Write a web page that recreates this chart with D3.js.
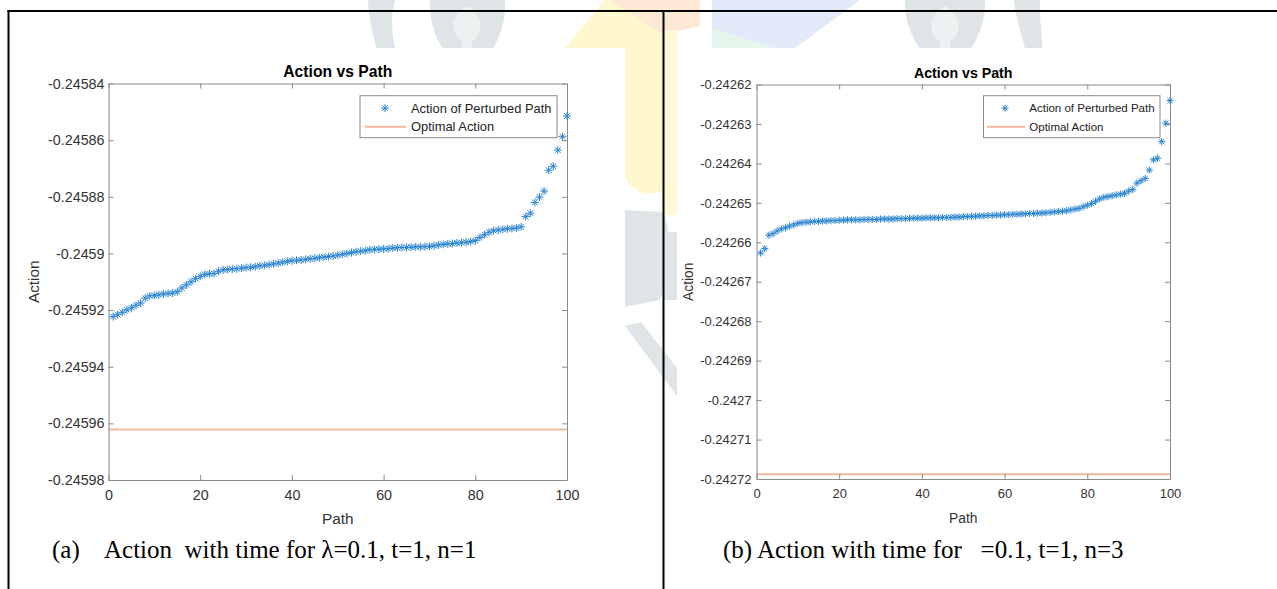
<!DOCTYPE html>
<html lang="en">
<head>
    <meta charset="UTF-8">
    <title>Action vs Path</title>
    <script src="https://d3js.org/d3.v7.min.js"></script>
    <style>
        body {
            background-color: #ffffff;
            margin: 0;
            padding: 0;
        }
        .caption {
            font-family: 'Liberation Serif', 'Times New Roman', serif;
            white-space: pre;
        }
        .mat {
            font-family: 'Liberation Sans', Arial, sans-serif;
        }
    </style>
</head>
<body>
    <svg id="chart"></svg>

    <script>
        // ---- data ----
        const xTicks = [0, 20, 40, 60, 80, 100];

        const yTicksA = [-0.24584, -0.24586, -0.24588, -0.2459, -0.24592, -0.24594, -0.24596, -0.24598];
        const optimalA = -0.2459622;
        const actionA = [
            -0.2459223, -0.2459216, -0.2459208, -0.2459199, -0.2459192, -0.2459183, -0.2459175, -0.2459158, -0.2459150, -0.2459148,
            -0.2459146, -0.2459143, -0.2459141, -0.2459140, -0.2459135, -0.2459122, -0.2459111, -0.2459100, -0.2459089, -0.2459081,
            -0.2459074, -0.2459072, -0.2459071, -0.2459063, -0.2459058, -0.2459057, -0.2459055, -0.2459054, -0.2459052, -0.2459050,
            -0.2459049, -0.2459047, -0.2459044, -0.2459042, -0.2459040, -0.2459037, -0.2459034, -0.2459031, -0.2459028, -0.2459026,
            -0.2459024, -0.2459023, -0.2459021, -0.2459019, -0.2459017, -0.2459015, -0.2459013, -0.2459011, -0.2459009, -0.2459006,
            -0.2459003, -0.2459000, -0.2458997, -0.2458994, -0.2458992, -0.2458990, -0.2458987, -0.2458986, -0.2458985, -0.2458984,
            -0.2458983, -0.2458981, -0.2458980, -0.2458979, -0.2458979, -0.2458978, -0.2458977, -0.2458977, -0.2458976, -0.2458975,
            -0.2458973, -0.2458970, -0.2458968, -0.2458966, -0.2458965, -0.2458963, -0.2458962, -0.2458960, -0.2458958, -0.2458955,
            -0.2458944, -0.2458934, -0.2458925, -0.2458920, -0.2458917, -0.2458915, -0.2458913, -0.2458912, -0.2458910, -0.2458906,
            -0.2458870, -0.2458858, -0.2458820, -0.2458801, -0.2458780, -0.2458706, -0.2458692, -0.2458635, -0.2458588, -0.2458515
        ];

        const yTicksB = [-0.24262, -0.24263, -0.24264, -0.24265, -0.24266, -0.24267, -0.24268, -0.24269, -0.2427, -0.24271, -0.24272];
        const optimalB = -0.2427188;
        const actionB = [
            -0.2426627, -0.2426616, -0.2426582, -0.2426578, -0.2426571, -0.2426566, -0.2426563, -0.2426559, -0.2426556, -0.2426552,
            -0.2426550, -0.2426549, -0.2426548, -0.2426547, -0.2426547, -0.2426546, -0.2426546, -0.2426545, -0.2426545, -0.2426544,
            -0.2426544, -0.2426543, -0.2426543, -0.2426543, -0.2426543, -0.2426542, -0.2426542, -0.2426542, -0.2426542, -0.2426541,
            -0.2426541, -0.2426541, -0.2426541, -0.2426540, -0.2426540, -0.2426540, -0.2426539, -0.2426539, -0.2426539, -0.2426539,
            -0.2426538, -0.2426538, -0.2426538, -0.2426538, -0.2426537, -0.2426537, -0.2426537, -0.2426536, -0.2426536, -0.2426535,
            -0.2426535, -0.2426534, -0.2426534, -0.2426533, -0.2426533, -0.2426532, -0.2426532, -0.2426531, -0.2426531, -0.2426530,
            -0.2426530, -0.2426529, -0.2426529, -0.2426528, -0.2426528, -0.2426527, -0.2426527, -0.2426526, -0.2426526, -0.2426525,
            -0.2426524, -0.2426523, -0.2426522, -0.2426521, -0.2426520, -0.2426518, -0.2426516, -0.2426514, -0.2426510, -0.2426506,
            -0.2426502, -0.2426496, -0.2426490, -0.2426486, -0.2426484, -0.2426482, -0.2426480, -0.2426478, -0.2426476, -0.2426470,
            -0.2426466, -0.2426450, -0.2426444, -0.2426438, -0.2426417, -0.2426391, -0.2426387, -0.2426345, -0.2426298, -0.2426241
        ];

        const width = 1277;
        const height = 589;

        const svg = d3.select("#chart")
            .attr("width", width)
            .attr("height", height);

        // faint logo watermark showing behind the pasted figures
        const wm = svg.append("g");
        const wmShapes = [
            ["M368,0 L395,0 C390,18 392,34 396,52 L378,52 C372,34 369,18 368,0 Z", "#dfe4e7"],
            ["M430,0 L505,0 C506,20 500,40 490,52 L445,52 C435,38 429,20 430,0 Z", "#dfe4e7"],
            ["M467,6 C452,14 448,30 462,42 L462,52 L472,52 L472,42 C486,30 482,14 467,6 Z", "#eef1f2"],
            ["M565,48 L605,0 L663,0 L663,48 Z", "#fff8cf"],
            ["M610,0 L700,0 L700,26 L663,34 Z", "#fde8d6"],
            ["M625,48 L663,48 L663,190 C655,196 640,195 630,185 L625,178 Z", "#fff8cf"],
            ["M663,30 L677,30 L677,215 L663,215 Z", "#fff8d6"],
            ["M712,0 L860,0 L795,48 L712,48 Z", "#e2e9f8"],
            ["M712,28 L775,48 L712,48 Z", "#e5f6ec"],
            ["M905,0 L985,0 C986,20 978,40 968,52 L922,52 C912,38 904,20 905,0 Z", "#dfe4e7"],
            ["M945,6 C930,14 926,30 940,42 L940,52 L950,52 L950,42 C964,30 960,14 945,6 Z", "#eef1f2"],
            ["M1014,0 L1040,0 C1040,18 1041,34 1043,52 L1026,52 C1021,34 1016,18 1014,0 Z", "#dfe4e7"],
            ["M625,210 L664,212 C672,240 672,275 660,300 L625,307 Z", "#dfe4e7"],
            ["M664,232 L677,232 L677,300 L664,300 Z", "#dfe4e7"],
            ["M625,326 L641,322 L677,368 L677,396 Z", "#dfe4e7"]
        ];
        wmShapes.forEach(([d, c]) => wm.append("path").attr("d", d).attr("fill", c));

        // the two pasted figure images (white)
        svg.append("rect").attr("x", 10).attr("y", 48).attr("width", 615).attr("height", 541).attr("fill", "#fff");
        svg.append("rect").attr("x", 677).attr("y", 48).attr("width", 600).attr("height", 541).attr("fill", "#fff");

        // table borders
        svg.append("line").attr("x1", 7.5).attr("x2", width).attr("y1", 11).attr("y2", 11)
            .attr("stroke", "#000").attr("stroke-width", 2);
        svg.append("line").attr("x1", 8.5).attr("x2", 8.5).attr("y1", 10).attr("y2", height)
            .attr("stroke", "#000").attr("stroke-width", 2);
        svg.append("line").attr("x1", 663.5).attr("x2", 663.5).attr("y1", 10).attr("y2", height)
            .attr("stroke", "#000").attr("stroke-width", 2);

        // matlab style '*' marker
        const matStar = {
            draw(ctx, size) {
                const r = Math.sqrt(size) / 2;
                const d = r * 0.7071;
                ctx.moveTo(0, -r); ctx.lineTo(0, r);
                ctx.moveTo(-r, 0); ctx.lineTo(r, 0);
                ctx.moveTo(-d, -d); ctx.lineTo(d, d);
                ctx.moveTo(-d, d); ctx.lineTo(d, -d);
            }
        };

        const blue = "#2a84cf";
        const orange = "#f2b79c";
        const axisColor = "#8a8a8a";
        const fmt = d => String(+d.toFixed(5));

        function drawPanel(p) {
            const x = d3.scaleLinear().domain([0, 100]).range([p.left, p.right]);
            const y = d3.scaleLinear().domain(p.yDomain).range([p.bottom, p.top]);
            const g = svg.append("g").attr("class", "mat");

            g.append("rect")
                .attr("x", p.left).attr("y", p.top)
                .attr("width", p.right - p.left).attr("height", p.bottom - p.top)
                .attr("fill", "#fff");

            // optimal action line
            g.append("line")
                .attr("x1", x(0)).attr("x2", x(100))
                .attr("y1", y(p.optimal)).attr("y2", y(p.optimal))
                .attr("stroke", orange).attr("stroke-width", 2);

            // box with inward ticks
            const bottomAxis = g.append("g")
                .attr("transform", `translate(0,${p.bottom})`)
                .call(d3.axisBottom(x).tickValues(xTicks).tickSize(-5).tickSizeOuter(0)
                    .tickPadding(p.xPad).tickFormat(d3.format("d")));
            const topAxis = g.append("g")
                .attr("transform", `translate(0,${p.top})`)
                .call(d3.axisTop(x).tickValues(xTicks).tickSize(-5).tickSizeOuter(0).tickFormat(""));
            const leftAxis = g.append("g")
                .attr("transform", `translate(${p.left},0)`)
                .call(d3.axisLeft(y).tickValues(p.yTicks).tickSize(-5).tickSizeOuter(0)
                    .tickPadding(p.yPad).tickFormat(fmt));
            const rightAxis = g.append("g")
                .attr("transform", `translate(${p.right},0)`)
                .call(d3.axisRight(y).tickValues(p.yTicks).tickSize(-5).tickSizeOuter(0).tickFormat(""));

            [bottomAxis, topAxis, leftAxis, rightAxis].forEach(a => {
                a.attr("font-family", null).attr("font-size", p.tickFont);
                a.selectAll("path, line").attr("stroke", axisColor);
                a.selectAll("text").attr("fill", "#333");
            });

            // scatter of perturbed path actions
            g.append("g").selectAll("path")
                .data(p.values)
                .join("path")
                .attr("transform", (d, i) => `translate(${x(i + 1)},${y(d)})`)
                .attr("d", d3.symbol(matStar, p.markerSize))
                .attr("fill", "none")
                .attr("stroke", blue)
                .attr("stroke-width", 1);

            // title and labels
            g.append("text")
                .attr("x", (p.left + p.right) / 2).attr("y", p.top - 7)
                .attr("text-anchor", "middle").attr("font-weight", "bold")
                .attr("font-size", p.titleFont).attr("fill", "#000")
                .text("Action vs Path");

            g.append("text")
                .attr("x", (p.left + p.right) / 2).attr("y", p.bottom + 44)
                .attr("text-anchor", "middle")
                .attr("font-size", p.labelFont).attr("fill", "#333")
                .text("Path");

            g.append("text")
                .attr("transform", `translate(${p.yLabelX},${(p.top + p.bottom) / 2}) rotate(-90)`)
                .attr("text-anchor", "middle").attr("dominant-baseline", "central")
                .attr("font-size", p.labelFont).attr("fill", "#333")
                .text("Action");

            // legend
            const L = p.legend;
            g.append("rect")
                .attr("x", L.x).attr("y", L.y).attr("width", L.w).attr("height", L.h)
                .attr("fill", "#fff").attr("stroke", "#8a8a8a").attr("stroke-width", 1);
            g.append("path")
                .attr("transform", `translate(${L.marker},${L.y + 12.5})`)
                .attr("d", d3.symbol(matStar, p.markerSize))
                .attr("fill", "none").attr("stroke", blue);
            g.append("line")
                .attr("x1", L.line[0]).attr("x2", L.line[1])
                .attr("y1", L.y + 31).attr("y2", L.y + 31)
                .attr("stroke", orange).attr("stroke-width", 2);
            g.append("text")
                .attr("x", L.text).attr("y", L.y + 12.5)
                .attr("dominant-baseline", "central")
                .attr("font-size", p.legendFont).attr("fill", "#222")
                .text("Action of Perturbed Path");
            g.append("text")
                .attr("x", L.text).attr("y", L.y + 31)
                .attr("dominant-baseline", "central")
                .attr("font-size", p.legendFont).attr("fill", "#222")
                .text("Optimal Action");
        }

        drawPanel({
            left: 108.5, right: 567, top: 83.5, bottom: 480,
            yDomain: [-0.24598, -0.24584], yTicks: yTicksA,
            values: actionA, optimal: optimalA,
            tickFont: 14.3, titleFont: 15.7, labelFont: 15.3, legendFont: 12.9,
            xPad: 10, yPad: 4, yLabelX: 33, markerSize: 64,
            legend: { x: 360, y: 95.7, w: 197, h: 42, marker: 385, text: 411, line: [365, 406] }
        });

        drawPanel({
            left: 756.5, right: 1170, top: 84.5, bottom: 479,
            yDomain: [-0.24272, -0.24262], yTicks: yTicksB,
            values: actionB, optimal: optimalB,
            tickFont: 13, titleFont: 14.2, labelFont: 13.8, legendFont: 11.5,
            xPad: 10, yPad: 5, yLabelX: 688, markerSize: 52,
            legend: { x: 983.5, y: 95.7, w: 176.5, h: 42, marker: 1005, text: 1029.3, line: [987, 1025] }
        });

        // figure captions
        svg.append("text").attr("class", "caption")
            .attr("x", 52).attr("y", 558).attr("font-size", 25).attr("fill", "#000")
            .text("(a)");
        svg.append("text").attr("class", "caption")
            .attr("x", 104).attr("y", 558).attr("font-size", 25).attr("fill", "#000")
            .text("Action  with time for \u03bb=0.1, t=1, n=1");
        svg.append("text").attr("class", "caption")
            .attr("x", 723).attr("y", 558).attr("font-size", 25).attr("fill", "#000")
            .text("(b) Action with time for   =0.1, t=1, n=3");
    </script>
</body>
</html>
